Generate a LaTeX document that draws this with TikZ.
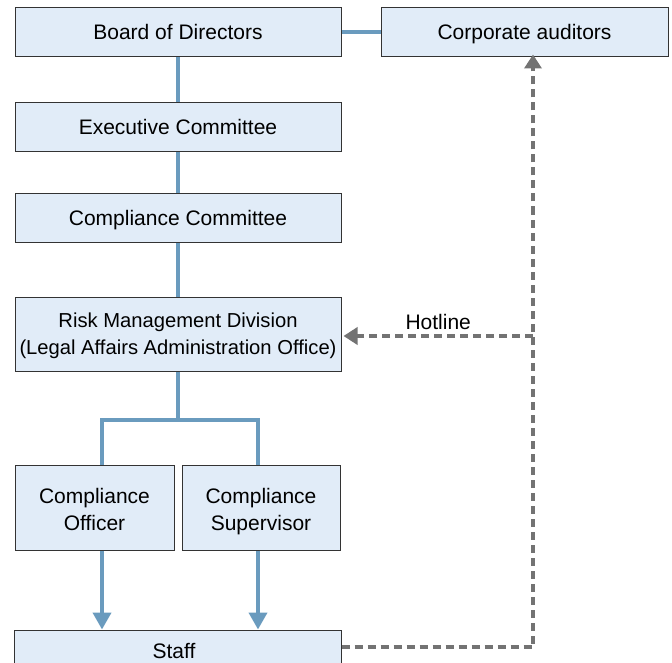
\documentclass[tikz,border=0pt]{standalone}
\usepackage{fontspec}
\setmainfont{Liberation Sans}
\usetikzlibrary{arrows.meta}
\definecolor{boxfill}{HTML}{E1ECF8}
\definecolor{boxline}{HTML}{333333}
\definecolor{linkblue}{HTML}{6A9BBE}
\definecolor{dashgray}{HTML}{737373}
\newcommand\lnstrut{\rule[-6pt]{0pt}{26pt}}
\newcommand\tallstrut{\rule[-6pt]{0pt}{31pt}}
\begin{document}
\begin{tikzpicture}[x=1pt,y=-1pt,
  lbl/.style={font=\fontsize{21}{26.5}\selectfont},
  box/.style={lbl,draw=boxline,line width=1pt,fill=boxfill,align=center,inner sep=0pt},
  link/.style={draw=linkblue,line width=4pt},
  linkarrow/.style={link,-{Triangle[length=17pt,width=18pt]}},
  hot/.style={draw=dashgray,line width=4.5pt,dash pattern=on 8pt off 5pt},
  hotarrow/.style={hot,-{Triangle[length=14pt,width=17pt]}}]
\clip (0,0) rectangle (672,663);
\useasboundingbox (0,0) rectangle (672,663);
\node[box,minimum width=326pt,minimum height=49pt] (board) at (178,32.5) {\lnstrut Board of Directors};
\node[box,minimum width=287pt,minimum height=49pt] (aud) at (524.5,32.5) {\lnstrut Corporate auditors};
\node[box,minimum width=326pt,minimum height=49pt] (exec) at (178,127.5) {\lnstrut Executive Committee};
\node[box,minimum width=326pt,minimum height=49pt] (comm) at (178,218.5) {\lnstrut Compliance Committee};
\node[box,minimum width=326pt,minimum height=74pt,font=\fontsize{20.2}{26.5}\selectfont] (risk) at (178,334) {\lnstrut Risk Management Division\\\lnstrut(Legal Affairs Administration Office)};
\node[box,minimum width=159pt,minimum height=85pt] (off) at (94.5,507.5) {\tallstrut Compliance\\\lnstrut Officer};
\node[box,minimum width=158pt,minimum height=85pt] (sup) at (261,507.5) {\tallstrut Compliance\\\lnstrut Supervisor};
\node[box,minimum width=327pt,minimum height=50pt] (staff) at (177.5,655) {};
\node[lbl] (stafftext) at (174,651) {Staff};
\coordinate (j) at (178,420);
\coordinate (jl) at (102,420);
\coordinate (jr) at (258,420);
\coordinate (corner) at (533,647);
\coordinate (hj) at (533,336);
\draw[link] (board.east) -- (aud.west);
\draw[link] (board.south) -- (exec.north);
\draw[link] (exec.south) -- (comm.north);
\draw[link] (comm.south) -- (risk.north);
\draw[link] (risk.south) -- (j);
\draw[link] (jl |- off.north) -- (jl) -- (jr) -- (jr |- sup.north);
\draw[linkarrow] (jl |- off.south) -- (jl |- staff.north);
\draw[linkarrow] (jr |- sup.south) -- (jr |- staff.north);
\draw[hotarrow] (staff.east |- corner) -- (corner) -- ([yshift=3pt]corner |- aud.south);
\draw[hotarrow] (hj) -- ([xshift=2pt]risk.east |- hj) node[pos=0.5,above=1pt,lbl,text=black] (hl) {Hotline};
\end{tikzpicture}
\end{document}
